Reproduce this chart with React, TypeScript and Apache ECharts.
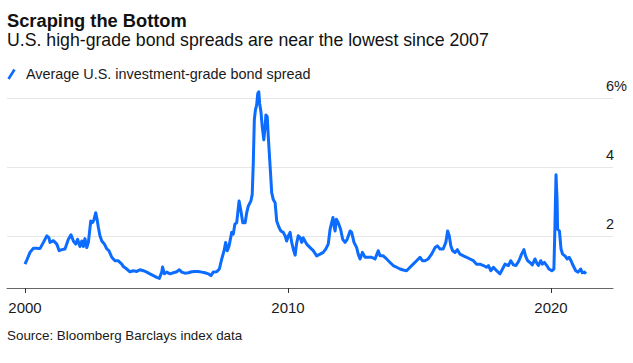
import React, { useEffect, useRef } from "react";
import * as echarts from "echarts";

// Decimal-year dates and spread values (%)
const years: number[] = [
  2000.0, 2000.06, 2000.19, 2000.32, 2000.44, 2000.57, 2000.7, 2000.83, 2000.91, 2000.95,
  2001.08, 2001.21, 2001.3, 2001.4, 2001.52, 2001.65, 2001.75, 2001.84, 2001.93, 2002.0,
  2002.09, 2002.16, 2002.22, 2002.28, 2002.35, 2002.41, 2002.5, 2002.56, 2002.62, 2002.69,
  2002.74, 2002.79, 2002.85, 2002.92, 2003.02, 2003.11, 2003.19, 2003.3, 2003.42, 2003.55,
  2003.61, 2003.68, 2003.74, 2003.87, 2003.99, 2004.12, 2004.25, 2004.37, 2004.5, 2004.63,
  2004.75, 2004.88, 2005.01, 2005.11, 2005.2, 2005.23, 2005.3, 2005.39, 2005.51, 2005.64,
  2005.77, 2005.87, 2005.96, 2006.08, 2006.21, 2006.34, 2006.46, 2006.59, 2006.72, 2006.84,
  2006.97, 2007.07, 2007.16, 2007.29, 2007.39, 2007.48, 2007.57, 2007.63, 2007.69, 2007.76,
  2007.86, 2007.92, 2007.98, 2008.05, 2008.14, 2008.21, 2008.28, 2008.37, 2008.43, 2008.49,
  2008.59, 2008.64, 2008.68, 2008.72, 2008.76, 2008.81, 2008.85, 2008.89, 2008.92, 2008.97,
  2009.02, 2009.08, 2009.13, 2009.16, 2009.21, 2009.25, 2009.32, 2009.38, 2009.44, 2009.51,
  2009.57, 2009.66, 2009.73, 2009.82, 2009.89, 2009.95, 2010.01, 2010.08, 2010.14, 2010.2,
  2010.27, 2010.33, 2010.39, 2010.46, 2010.52, 2010.58, 2010.71, 2010.84, 2010.96, 2011.09,
  2011.22, 2011.34, 2011.44, 2011.53, 2011.6, 2011.66, 2011.71, 2011.75, 2011.79, 2011.84,
  2011.91, 2012.0, 2012.08, 2012.17, 2012.25, 2012.36, 2012.42, 2012.51, 2012.61, 2012.67,
  2012.74, 2012.83, 2012.93, 2013.05, 2013.18, 2013.31, 2013.43, 2013.5, 2013.62, 2013.75,
  2013.88, 2014.0, 2014.13, 2014.26, 2014.38, 2014.51, 2014.64, 2014.76, 2014.89, 2015.02,
  2015.11, 2015.21, 2015.33, 2015.46, 2015.59, 2015.68, 2015.78, 2015.9, 2016.0, 2016.07,
  2016.13, 2016.19, 2016.26, 2016.35, 2016.44, 2016.54, 2016.67, 2016.79, 2016.92, 2017.05,
  2017.17, 2017.3, 2017.43, 2017.55, 2017.62, 2017.71, 2017.81, 2017.93, 2018.06, 2018.19,
  2018.25, 2018.38, 2018.47, 2018.57, 2018.67, 2018.78, 2018.88, 2018.97, 2019.03, 2019.11,
  2019.2, 2019.29, 2019.39, 2019.46, 2019.52, 2019.61, 2019.67, 2019.75, 2019.84, 2019.92,
  2020.03, 2020.11, 2020.15, 2020.19, 2020.23, 2020.25, 2020.32, 2020.38, 2020.44, 2020.53,
  2020.62, 2020.69, 2020.76, 2020.84, 2020.94, 2021.03, 2021.13, 2021.19, 2021.27, 2021.33,
];

const spreads: number[] = [
  1.19, 1.29, 1.53, 1.65, 1.65, 1.64, 1.82, 2.01, 1.96, 1.82,
  1.87, 1.77, 1.58, 1.61, 1.63, 1.91, 2.04, 1.86, 1.77, 1.91,
  1.7, 1.86, 1.7, 1.93, 1.67, 1.82, 2.44, 2.39, 2.47, 2.68,
  2.49, 2.25, 2.01, 1.86, 1.77, 1.63, 1.58, 1.39, 1.29, 1.29,
  1.24, 1.19, 1.12, 1.05, 0.97, 1.0, 0.98, 1.03, 1.0, 0.96,
  0.91, 0.86, 0.81, 0.78, 0.96, 1.11, 0.91, 0.96, 0.91, 0.94,
  0.97, 1.03, 0.96, 0.93, 0.94, 0.97, 0.98, 0.98, 0.96, 0.94,
  0.91, 0.86, 0.96, 0.97, 1.05, 1.34, 1.58, 1.82, 1.58, 1.72,
  2.11, 2.06, 2.35, 2.39, 3.02, 2.73, 2.39, 2.39, 2.68, 2.87,
  3.02, 3.21, 4.12, 5.37, 5.65, 5.8, 6.13, 6.18, 5.85, 5.61,
  5.17, 4.79, 5.17, 5.51, 5.46, 4.89, 4.02, 3.26, 3.06, 2.97,
  2.44, 2.25, 2.15, 2.11, 2.01, 1.86, 2.01, 2.11, 1.82, 1.63,
  1.45, 1.8, 2.01, 1.96, 1.82, 1.95, 1.77, 1.67, 1.58, 1.43,
  1.48, 1.53, 1.63, 1.77, 2.2, 2.39, 2.54, 2.3, 2.15, 2.49,
  2.39, 2.2, 1.91, 1.82, 1.91, 2.15, 2.11, 1.82, 1.67, 1.48,
  1.34, 1.53, 1.39, 1.39, 1.39, 1.34, 1.58, 1.43, 1.43, 1.34,
  1.24, 1.15, 1.1, 1.05, 1.02, 1.0, 1.1, 1.19, 1.29, 1.39,
  1.29, 1.29, 1.34, 1.48, 1.67, 1.72, 1.63, 1.63, 1.82, 2.15,
  2.01, 1.72, 1.58, 1.53, 1.61, 1.48, 1.43, 1.39, 1.34, 1.29,
  1.19, 1.19, 1.15, 1.1, 1.15, 1.0, 1.1, 1.0, 0.91, 1.1,
  1.19, 1.15, 1.29, 1.17, 1.15, 1.29, 1.48, 1.61, 1.43, 1.29,
  1.24, 1.17, 1.34, 1.22, 1.15, 1.29, 1.19, 1.24, 1.15, 1.05,
  1.0, 1.05, 2.3, 3.78, 3.06, 2.2, 2.15, 1.63, 1.48, 1.43,
  1.34, 1.39, 1.29, 1.15, 1.0, 0.96, 1.05, 0.94, 0.96, 0.91,
];

const xTickYears: number[] = [2000, 2010, 2020];
const yTickLabels: Record<string, string> = { "2": "2", "4": "4", "6": "6%" };

const TITLE = "Scraping the Bottom";
const SUBTITLE = "U.S. high-grade bond spreads are near the lowest since 2007";
const SERIES_NAME = "Average U.S. investment-grade bond spread";
const SOURCE = "Source: Bloomberg Barclays index data";

const BLUE = "#0b6cff";
const FONT = "'Liberation Sans', Arial, Helvetica, sans-serif";

export default function App() {
  const ref = useRef<HTMLDivElement>(null);

  useEffect(() => {
    if (!ref.current) return;
    const chart = echarts.init(ref.current, undefined, { renderer: "svg" });
    const data = years.map((y, i) => [y, spreads[i]]);
    const transparent = "rgba(0,0,0,0)";

    chart.setOption({
      animation: false,
      backgroundColor: "#ffffff",
      textStyle: { fontFamily: FONT },
      grid: { left: 7, right: 20, top: 98, bottom: 75, containLabel: false },
      xAxis: {
        type: "value",
        min: 1999.316,
        max: 2022.357,
        axisLine: { onZero: false, lineStyle: { color: "#666666", width: 1 } },
        axisTick: {
          show: true,
          customValues: xTickYears,
          length: 5,
          lineStyle: { color: "#333333", width: 1 },
        },
        axisLabel: {
          customValues: xTickYears,
          formatter: (v: number) => String(Math.round(v)),
          fontSize: 15,
          color: "#1a1a1a",
          margin: 12,
          fontFamily: FONT,
        },
        splitLine: { show: false },
      },
      yAxis: {
        type: "value",
        position: "right",
        min: 0.5,
        max: 6,
        interval: 0.5,
        axisLine: { show: false },
        axisTick: { show: false },
        axisLabel: {
          formatter: (v: number) => yTickLabels[String(v)] ?? "",
          fontSize: 14.5,
          color: "#1a1a1a",
          margin: -7,
          align: "left",
          verticalAlign: "bottom",
          padding: [0, 0, 5, 0],
          fontFamily: FONT,
        },
        splitLine: {
          show: true,
          lineStyle: {
            color: [transparent, transparent, transparent, "#e6e6e6"],
            width: 1,
          },
        },
      },
      series: [
        {
          name: SERIES_NAME,
          type: "line",
          data,
          showSymbol: false,
          symbol: "none",
          clip: false,
          lineStyle: { color: BLUE, width: 3, join: "round" },
          itemStyle: { color: BLUE },
        },
      ],
      graphic: [
        {
          type: "text",
          x: 7,
          y: 20,
          style: {
            text: TITLE,
            font: `bold 18.3px ${FONT}`,
            fill: "#111111",
            verticalAlign: "middle",
          },
        },
        {
          type: "text",
          x: 7,
          y: 40,
          style: {
            text: SUBTITLE,
            font: `17.7px ${FONT}`,
            fill: "#111111",
            verticalAlign: "middle",
          },
        },
        {
          type: "line",
          shape: { x1: 8.5, y1: 79, x2: 14.5, y2: 69.5 },
          style: { stroke: BLUE, lineWidth: 2.6 },
        },
        {
          type: "text",
          x: 26,
          y: 74,
          style: {
            text: SERIES_NAME,
            font: `14.4px ${FONT}`,
            fill: "#1a1a1a",
            verticalAlign: "middle",
          },
        },
        {
          type: "text",
          x: 7,
          y: 335,
          style: {
            text: SOURCE,
            font: `13.4px ${FONT}`,
            fill: "#1a1a1a",
            verticalAlign: "middle",
          },
        },
      ],
    });

    return () => chart.dispose();
  }, []);

  return (
    <div
      ref={ref}
      style={{ position: "fixed", left: 0, top: 0, width: 633, height: 363 }}
    />
  );
}
